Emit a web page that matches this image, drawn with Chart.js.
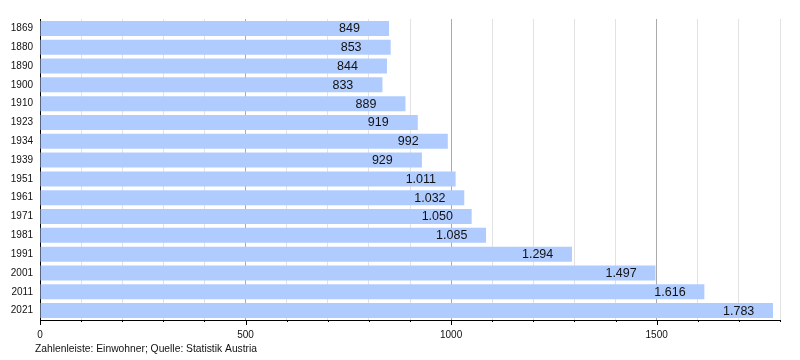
<!DOCTYPE html>
<html><head><meta charset="utf-8">
<script src="https://cdn.jsdelivr.net/npm/chart.js@4/dist/chart.umd.min.js"></script>
<style>html,body{margin:0;padding:0;background:#fff}#wrap{width:800px;height:360px}</style>
</head><body><div id="wrap"><canvas id="c" width="800" height="360"></canvas></div>
<script>
const years = ['1869','1880','1890','1900','1910','1923','1934','1939','1951','1961','1971','1981','1991','2001','2011','2021'];
const population = [849,853,844,833,889,919,992,929,1011,1032,1050,1085,1294,1497,1616,1783];
const footerText = 'Zahlenleiste: Einwohner; Quelle: Statistik Austria';
const FONT = '"Liberation Sans", Arial, Helvetica, sans-serif';

function fmt(v){ return String(v).replace(/\B(?=(\d{3})+(?!\d))/g,'.'); }

const extras = {
  id:'extras',
  afterDatasetsDraw(chart){
    const ctx = chart.ctx;
    const meta = chart.getDatasetMeta(0);
    ctx.save();
    ctx.font = '12.5px ' + FONT;
    ctx.fillStyle = '#111';
    ctx.textAlign = 'left';
    ctx.textBaseline = 'middle';
    meta.data.forEach((bar,i)=>{
      ctx.fillText(fmt(population[i]), bar.x - 50, bar.y + 0.5);
    });
    ctx.restore();
  },
  afterDraw(chart){
    const ctx = chart.ctx;
    const xs = chart.scales.x;
    const bottom = chart.chartArea.bottom;
    ctx.save();
    ctx.strokeStyle = '#000';
    ctx.lineWidth = 1;
    for (let v = 0; v <= 1800; v += 100){
      const px = Math.round(xs.getPixelForValue(v)) + 0.5;
      const len = (v % 500 === 0) ? 5 : 2;
      ctx.beginPath(); ctx.moveTo(px, bottom); ctx.lineTo(px, bottom + len); ctx.stroke();
    }
    ctx.font = '10.3px ' + FONT;
    ctx.fillStyle = '#111';
    ctx.textAlign = 'left';
    ctx.textBaseline = 'middle';
    ctx.fillText(footerText, 35, 349);
    ctx.restore();
  }
};

new Chart(document.getElementById('c'), {
  type:'bar',
  data:{ labels: years, datasets:[{ data: population, backgroundColor:'#b0ccff', borderWidth:0, categoryPercentage:1, barPercentage:0.8 }]},
  options:{
    indexAxis:'y', responsive:false, animation:false,
    layout:{ padding:{ top:19, right:20, bottom:0, left:0 } },
    plugins:{ legend:{display:false}, tooltip:{enabled:false} },
    scales:{
      x:{ min:0, max:1800,
          ticks:{ stepSize:100, autoSkip:false, maxRotation:0, padding:9, color:'#111', font:{ family:FONT, size:10 },
                  callback:(v)=> (v % 500 === 0 && v < 1800) ? String(v) : '' },
          grid:{ drawTicks:false, color:(c)=> c.tick && c.tick.value % 500 === 0 ? (c.tick.value===0 ? '#000' : '#aaaaaa') : '#e2e2e2' },
          border:{ color:'#000', width:1 },
          afterFit:(s)=>{ s.height = 40; } },
      y:{ ticks:{ color:'#111', padding:7, font:{ family:FONT, size:10 } },
          grid:{ display:false, drawTicks:false },
          border:{ color:'#000', width:1 },
          afterFit:(s)=>{ s.width = 40; } }
    }
  },
  plugins:[extras]
});
</script></body></html>
